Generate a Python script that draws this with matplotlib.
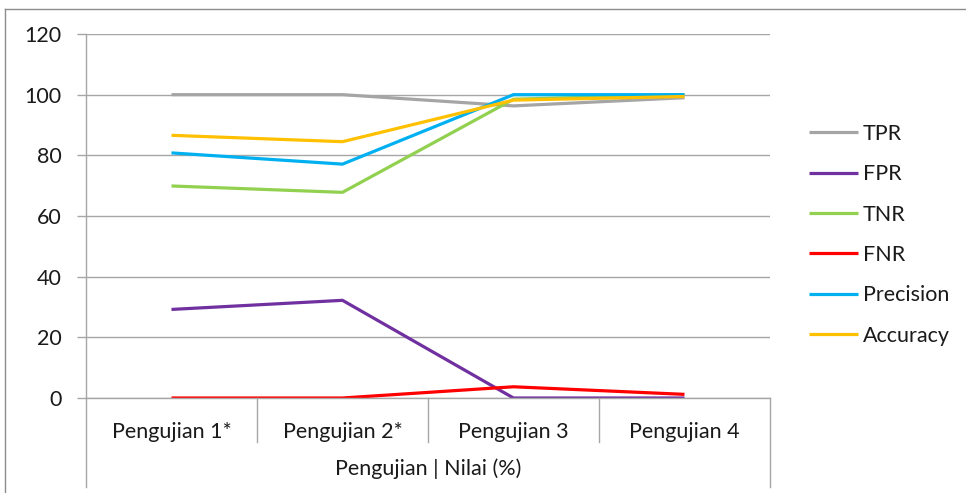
import matplotlib
matplotlib.use("Agg")
import matplotlib.pyplot as plt
from matplotlib.lines import Line2D
import matplotlib.transforms as mtransforms

plt.rcParams['font.family'] = ['Lato', 'DejaVu Sans']

categories = ["Pengujian 1*", "Pengujian 2*", "Pengujian 3", "Pengujian 4"]
group_label = "Pengujian | Nilai (%)"

tpr = [100.0, 100.0, 96.3, 99.0]
fpr = [29.2, 32.2, 0.0, 0.0]
tnr = [69.9, 67.8, 98.5, 100.0]
fnr = [0.0, 0.0, 3.7, 1.2]
precision = [80.8, 77.1, 100.0, 100.0]
accuracy = [86.6, 84.5, 98.2, 99.4]

series_names = ["TPR", "FPR", "TNR", "FNR", "Precision", "Accuracy"]
series_values = [tpr, fpr, tnr, fnr, precision, accuracy]
series_colors = ["#a5a5a5", "#7030a0", "#92d050", "#ff0000", "#00b0f0", "#ffc000"]

y_ticks = [0, 20, 40, 60, 80, 100, 120]

W, H = 966, 493
fig = plt.figure(figsize=(W / 100, H / 100), dpi=100)
ax = fig.add_axes([86 / W, 1 - 398 / H, (770 - 86) / W, (398 - 34) / H])

text_color = "#1a1a1a"
grid_color = "#a6a6a6"
fs = 15.5

x = list(range(len(categories)))
for name, vals, col in zip(series_names, series_values, series_colors):
    ax.plot(x, vals, color=col, lw=2.3, label=name, solid_capstyle="butt",
            solid_joinstyle="miter")

ax.set_xlim(-0.5, len(categories) - 0.5)
ax.set_ylim(0, 120)
ax.set_yticks(y_ticks)
ax.yaxis.grid(True, color=grid_color, lw=1.0)
ax.set_axisbelow(True)

for s in ["top", "right"]:
    ax.spines[s].set_visible(False)
for s in ["left", "bottom"]:
    ax.spines[s].set_color(grid_color)
    ax.spines[s].set_linewidth(1.0)

ax.tick_params(axis="y", direction="out", length=6.5, width=1.0, color=grid_color,
               labelsize=fs, labelcolor=text_color, pad=11)
ax.set_xticks(x)
ax.set_xticklabels(categories)
ax.tick_params(axis="x", length=0, labelsize=fs, labelcolor=text_color, pad=17)

# category separators and outer frame of the category axis
blend = mtransforms.blended_transform_factory(ax.transData, ax.transAxes)
sep_depth = (442 - 398) / (398 - 34)
outer_depth = (487 - 398) / (398 - 34)
for b in [0.5, 1.5, 2.5]:
    ax.add_line(Line2D([b, b], [0, -sep_depth], transform=blend, color=grid_color,
                       lw=1.0, clip_on=False))
for b in [-0.5, len(categories) - 0.5]:
    ax.add_line(Line2D([b, b], [0, -outer_depth], transform=blend, color=grid_color,
                       lw=1.0, clip_on=False))

ax.text(0.5, -(469 - 398) / (398 - 34), group_label, transform=ax.transAxes,
        ha="center", va="center", fontsize=fs, color=text_color)

leg = fig.legend(loc="upper left", bbox_to_anchor=(800 / W, 1 - 115 / H),
                 frameon=False, fontsize=fs, handlelength=2.28, handletextpad=0.23,
                 labelspacing=0.95, borderaxespad=0)
for t in leg.get_texts():
    t.set_color(text_color)

# chart area border
frame_color = "#8c8c8c"
fig.add_artist(Line2D([5 / W, 1], [1 - 9 / H, 1 - 9 / H], transform=fig.transFigure,
                      color=frame_color, lw=1.0))
fig.add_artist(Line2D([5 / W, 5 / W], [1 - 9 / H, 0], transform=fig.transFigure,
                      color=frame_color, lw=1.0))

fig.savefig("out.png", dpi=100)
